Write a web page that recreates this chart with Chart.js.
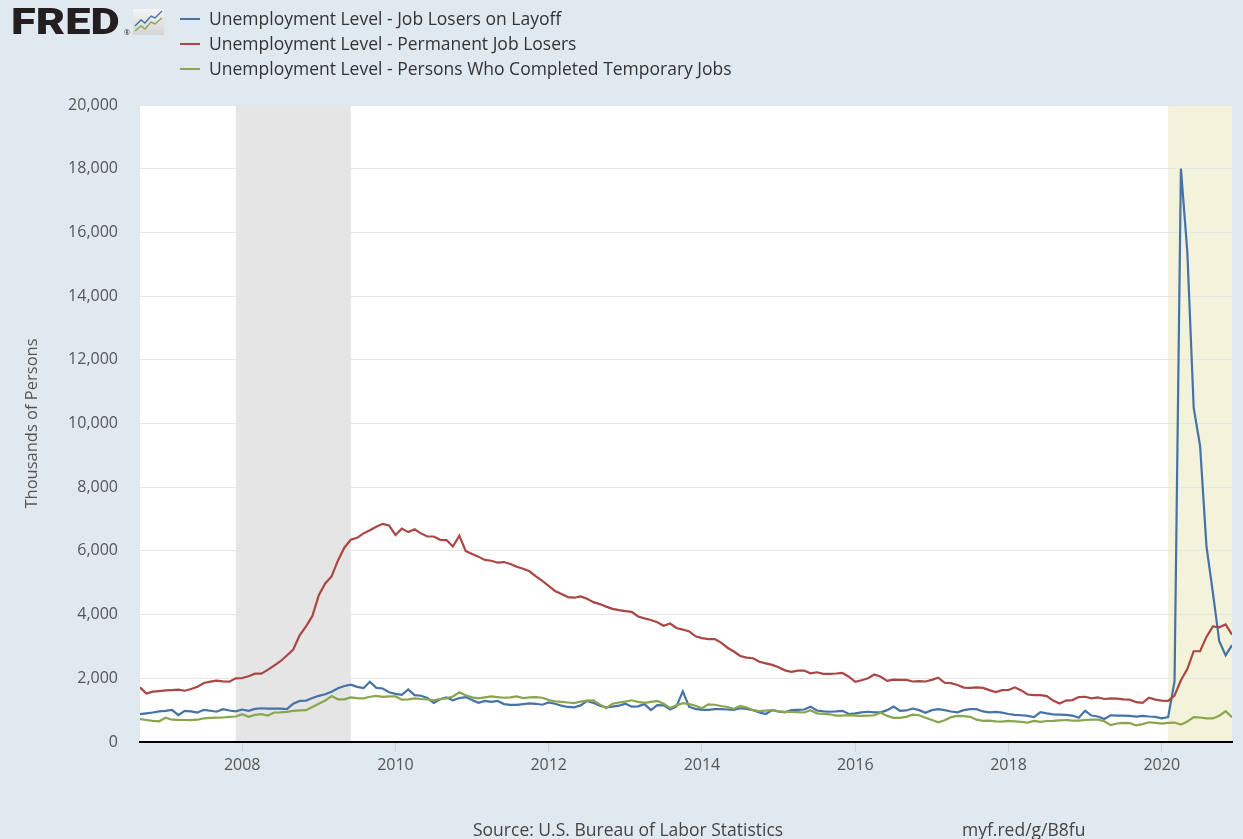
<!DOCTYPE html>
<html>
<head>
<meta charset="utf-8">
<script src="https://cdn.jsdelivr.net/npm/chart.js@4.4.0/dist/chart.umd.min.js"></script>
<style>
  html, body { margin: 0; padding: 0; background: #e1e9f0; }
  body { width: 1243px; height: 839px; position: relative; overflow: hidden; font-family: "Open Sans", sans-serif; }
  #chart { position: absolute; left: 0; top: 0; }
  #logo { position: absolute; left: 11px; top: 0px; font: 900 37px Roboto, "Liberation Sans", sans-serif; color: #231f20; letter-spacing: 0px; line-height: 44px; transform: scaleX(1.22); transform-origin: 0 0; }
  #reg { position: absolute; left: 124px; top: 28px; font-size: 7px; color: #231f20; }
  #icon { position: absolute; left: 133px; top: 9px; }
  #legend { position: absolute; left: 180px; top: 6px; }
  .item { height: 25px; line-height: 25px; font-size: 17.5px; color: #333; white-space: nowrap; }
  .swatch { display: inline-block; width: 20px; height: 2px; vertical-align: middle; margin-right: 9px; position: relative; top: -1px; }
  .foot { position: absolute; top: 817px; font-size: 17.5px; color: #444; line-height: 24px; }
</style>
</head>
<body>
<canvas id="chart" width="1243" height="839"></canvas>
<div id="logo">FRED</div>
<div id="reg">&reg;</div>
<svg id="icon" width="31" height="26" viewBox="0 0 31 26">
  <defs><linearGradient id="g" x1="0" y1="0" x2="0" y2="1"><stop offset="0" stop-color="#f4f4f4"/><stop offset="1" stop-color="#d4d4d4"/></linearGradient></defs>
  <rect x="0" y="0" width="31" height="26" fill="url(#g)"/>
  <polyline points="2,17 8,11 12,14 18,7 22,9 29,2" fill="none" stroke="#4572a7" stroke-width="1.4"/>
  <polyline points="2,22 8,17 12,20 18,13 22,15 29,9" fill="none" stroke="#89a54e" stroke-width="1.4"/>
</svg>
<div id="legend"></div>
<div class="foot" style="left:473px">Source: U.S. Bureau of Labor Statistics</div>
<div class="foot" style="left:962px">myf.red/g/B8fu</div>
<script>
// monthly data, starting Sep 2006 (thousands of persons)
var startYear = 2006, startMonth = 9;

var layoff = [
  874, 900, 926, 960, 979, 1010, 842, 979, 960, 926, 1010, 980, 950, 1030, 990, 960, 1020, 979, 1040, 1060, 1050, 1050, 1050, 1030, 1200, 1290, 1300, 1380, 1450, 1500,
  1580, 1690, 1760, 1800, 1730, 1690, 1890, 1700, 1680, 1560, 1510, 1480, 1650, 1470, 1453, 1380, 1230, 1340, 1400, 1310, 1380, 1410, 1320, 1230, 1290, 1260, 1290, 1190, 1168, 1168,
  1190, 1210, 1200, 1170, 1240, 1200, 1140, 1100, 1090, 1150, 1290, 1230, 1140, 1090, 1110, 1140, 1200, 1110, 1120, 1190, 1000, 1160, 1150, 1020, 1120, 1590, 1100, 1040, 1010, 1010,
  1030, 1030, 1020, 1010, 1060, 1040, 1000, 930, 880, 1000, 960, 930, 1000, 1010, 1020, 1110, 990, 960, 950, 960, 980, 880, 900, 930, 950, 930, 930, 1000, 1110, 980,
  990, 1050, 1000, 920, 1000, 1030, 1000, 958, 930, 1000, 1030, 1030, 960, 930, 947, 920, 880, 853, 840, 821, 780, 940, 900, 870, 860, 853, 830, 760, 980, 830,
  800, 720, 840, 830, 830, 820, 800, 820, 800, 790, 740, 780, 1900, 18000, 15400, 10500, 9300, 6150, 4700, 3170, 2720, 3040
];
var permanent = [
  1716, 1520, 1580, 1600, 1620, 1630, 1642, 1610, 1663, 1737, 1853, 1895, 1926, 1905, 1895, 2000, 2010, 2063, 2147, 2147, 2263, 2400, 2537, 2716, 2905, 3347, 3631, 3958, 4610, 4979,
  5200, 5700, 6100, 6350, 6410, 6550, 6650, 6760, 6850, 6800, 6500, 6700, 6590, 6680, 6550, 6452, 6452, 6347, 6340, 6140, 6480, 6000, 5900, 5820, 5716, 5690, 5630, 5650, 5590, 5500,
  5440, 5360, 5200, 5060, 4900, 4740, 4650, 4550, 4530, 4570, 4500, 4390, 4330, 4250, 4180, 4140, 4110, 4084, 3940, 3880, 3830, 3760, 3650, 3720, 3580, 3530, 3470, 3320, 3260, 3230,
  3230, 3120, 2960, 2840, 2700, 2650, 2630, 2520, 2470, 2420, 2350, 2250, 2200, 2240, 2242, 2158, 2190, 2140, 2140, 2150, 2168, 2050, 1890, 1940, 2000, 2120, 2050, 1920, 1960, 1950,
  1950, 1900, 1910, 1900, 1950, 2020, 1860, 1850, 1790, 1710, 1700, 1716, 1700, 1630, 1570, 1630, 1632, 1716, 1620, 1490, 1474, 1470, 1440, 1300, 1210, 1300, 1316, 1410, 1420, 1370,
  1400, 1350, 1370, 1360, 1340, 1330, 1250, 1230, 1390, 1330, 1300, 1290, 1460, 1940, 2290, 2850, 2850, 3300, 3630, 3600, 3690, 3370
];
var temporary = [
  716, 690, 663, 650, 760, 700, 695, 690, 684, 700, 740, 760, 768, 770, 790, 800, 874, 790, 850, 874, 830, 926, 930, 947, 979, 990, 1000, 1100, 1200, 1300,
  1440, 1340, 1340, 1400, 1380, 1370, 1420, 1450, 1420, 1430, 1430, 1330, 1340, 1370, 1350, 1340, 1310, 1350, 1370, 1430, 1560, 1470, 1400, 1370, 1400, 1430, 1410, 1390, 1400, 1430,
  1380, 1400, 1410, 1390, 1320, 1280, 1260, 1240, 1220, 1270, 1300, 1310, 1180, 1060, 1200, 1240, 1270, 1310, 1260, 1230, 1260, 1290, 1200, 1070, 1150, 1220, 1190, 1140, 1060, 1180,
  1170, 1130, 1100, 1040, 1130, 1080, 1000, 970, 985, 1000, 960, 947, 947, 935, 926, 1000, 900, 880, 870, 830, 830, 842, 830, 821, 830, 840, 920, 820, 760, 760,
  790, 860, 840, 760, 690, 620, 680, 780, 820, 810, 790, 700, 663, 670, 650, 640, 660, 645, 630, 610, 660, 630, 660, 665, 680, 690, 670, 670, 690, 700,
  700, 650, 530, 580, 600, 590, 520, 560, 620, 600, 580, 600, 610, 545, 640, 780, 770, 740, 740, 820, 970, 780
];

var seriesNames = [
  'Unemployment Level - Job Losers on Layoff',
  'Unemployment Level - Permanent Job Losers',
  'Unemployment Level - Persons Who Completed Temporary Jobs'
];
var seriesColors = ['#4572a7', '#aa4643', '#89a54e'];
var yearTicks = [2008, 2010, 2012, 2014, 2016, 2018, 2020];
var recessions = [['2007-12', '2009-06'], ['2020-02', '2020-12']];

function toX(i) { return startYear + (startMonth - 1 + i) / 12; }
function ymToX(s) { var p = s.split('-'); return +p[0] + (+p[1] - 1) / 12; }

// html legend
var legend = document.getElementById('legend');
seriesNames.forEach(function(name, k) {
  var div = document.createElement('div');
  div.className = 'item';
  div.innerHTML = '<span class="swatch" style="background:' + seriesColors[k] + '"></span>' + name;
  legend.appendChild(div);
});

var backdrop = {
  id: 'backdrop',
  beforeDraw: function(chart) {
    var ctx = chart.ctx, a = chart.chartArea, x = chart.scales.x;
    ctx.save();
    ctx.fillStyle = '#ffffff';
    ctx.fillRect(a.left, a.top, a.right - a.left, a.bottom - a.top);
    var fills = ['#e5e5e5', '#f3f3dc'];
    recessions.forEach(function(r, k) {
      var x0 = Math.max(a.left, x.getPixelForValue(ymToX(r[0])));
      var x1 = Math.min(a.right, x.getPixelForValue(ymToX(r[1])));
      ctx.fillStyle = fills[k];
      ctx.fillRect(x0, a.top, x1 - x0, a.bottom - a.top);
    });
    ctx.restore();
  }
};

var allSeries = [layoff, permanent, temporary];
var chart = new Chart('chart', {
  type: 'line',
  data: {
    datasets: allSeries.map(function(vals, k) {
      return {
        label: seriesNames[k],
        data: vals.map(function(v, i) { return {x: toX(i), y: v}; }),
        borderColor: seriesColors[k],
        backgroundColor: seriesColors[k],
        borderWidth: 2.2,
        pointRadius: 0,
        tension: 0,
        order: 2 - k
      };
    })
  },
  options: {
    responsive: false,
    animation: false,
    layout: { padding: { top: 105, right: 11, bottom: 52, left: 0 } },
    plugins: { legend: { display: false }, tooltip: { enabled: false } },
    scales: {
      x: {
        type: 'linear',
        min: toX(0),
        max: toX(layoff.length - 1),
        afterBuildTicks: function(s) { s.ticks = yearTicks.map(function(v) { return {value: v}; }); },
        afterFit: function(s) { s.height = 45; },
        grid: { drawOnChartArea: false, drawTicks: true, tickLength: 10, color: '#c5d3e0' },
        border: { display: true, color: '#000', width: 2 },
        ticks: {
          color: '#555', padding: 4, maxRotation: 0, autoSkip: false,
          font: { family: 'Open Sans', size: 16 },
          callback: function(v) { return String(v); }
        }
      },
      y: {
        min: 0,
        max: 20000,
        afterFit: function(s) { s.width = 140; },
        grid: { color: '#e6e6e6', drawTicks: false },
        border: { display: false },
        ticks: {
          stepSize: 2000, color: '#555', padding: 22,
          font: { family: 'Open Sans', size: 16 },
          callback: function(v) { return v.toLocaleString('en-US'); }
        },
        title: {
          display: true, text: 'Thousands of Persons', color: '#555',
          font: { family: 'Open Sans', size: 16.5 },
          padding: { top: 22, bottom: 0 }
        }
      }
    }
  },
  plugins: [backdrop]
});
</script>
</body>
</html>
